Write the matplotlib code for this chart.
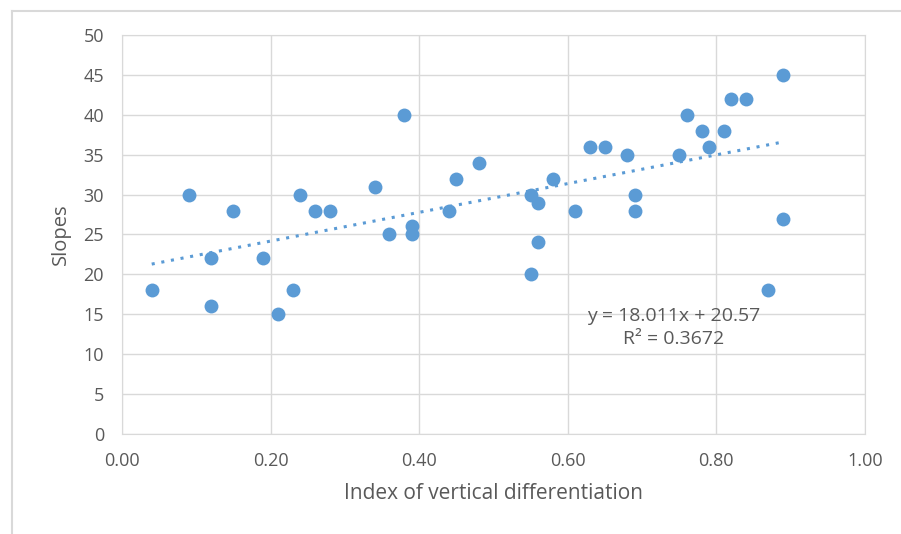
import numpy as np
import matplotlib.pyplot as plt
from matplotlib.lines import Line2D

# index of vertical differentiation vs slopes
x_vals = [0.04, 0.09, 0.12, 0.12, 0.15, 0.19, 0.21, 0.23, 0.24, 0.26,
          0.28, 0.34, 0.36, 0.38, 0.39, 0.39, 0.44, 0.45, 0.48, 0.55,
          0.55, 0.56, 0.56, 0.58, 0.61, 0.63, 0.65, 0.68, 0.69, 0.69,
          0.75, 0.76, 0.78, 0.79, 0.81, 0.82, 0.84, 0.87, 0.89, 0.89]
y_vals = [18, 30, 22, 16, 28, 22, 15, 18, 30, 28,
          28, 31, 25, 40, 26, 25, 28, 32, 34, 30,
          20, 29, 24, 32, 28, 36, 36, 35, 30, 28,
          35, 40, 38, 36, 38, 42, 42, 18, 45, 27]
x_ticks = [0.0, 0.2, 0.4, 0.6, 0.8, 1.0]
y_ticks = list(range(0, 51, 5))

# trendline as printed on the chart
SLOPE, INTERCEPT, R2 = 18.011, 20.57, 0.3672

BLUE = "#5B9BD5"
GRID = "#d9d9d9"
TXT = "#595959"

plt.rcParams["font.family"] = ["Open Sans", "DejaVu Sans"]

fig = plt.figure(figsize=(9.01, 5.34), dpi=100)
ax = fig.add_axes([0.1354, 0.1873, 0.8246, 0.7472])

ax.scatter(x_vals, y_vals, s=100, color=BLUE, zorder=3, linewidths=0)
xs = np.array([min(x_vals), max(x_vals)])
ax.plot(xs, SLOPE * xs + INTERCEPT, color=BLUE, ls=(0, (1, 2.2)), lw=2.2, zorder=2)

ax.set_xlim(0, 1.0)
ax.set_ylim(0, 50)
ax.set_xticks(x_ticks)
ax.set_xticklabels([f"{t:.2f}" for t in x_ticks])
ax.set_yticks(y_ticks)
ax.grid(True, color=GRID, lw=1)
ax.set_axisbelow(True)
for s in ax.spines.values():
    s.set_color(GRID)
ax.tick_params(length=0, colors=TXT, labelsize=13)
ax.tick_params(axis="x", pad=13)
ax.tick_params(axis="y", pad=13)
ax.set_xlabel("Index of vertical differentiation", color=TXT, fontsize=15, labelpad=9)
ax.set_ylabel("Slopes", color=TXT, fontsize=14.5, labelpad=9)

ax.text(0.742, 13.3, f"y = {SLOPE}x + {INTERCEPT}\nR² = {R2}", color=TXT,
        fontsize=14, ha="center", va="center", linespacing=1.35)

# chart area border (left and top edges visible)
fig.add_artist(Line2D([12 / 901, 12 / 901], [0, 1 - 11 / 534], transform=fig.transFigure,
                      color=GRID, lw=1.5))
fig.add_artist(Line2D([12 / 901, 1], [1 - 11 / 534, 1 - 11 / 534], transform=fig.transFigure,
                      color=GRID, lw=1.5))

fig.savefig("out.png", dpi=100)
